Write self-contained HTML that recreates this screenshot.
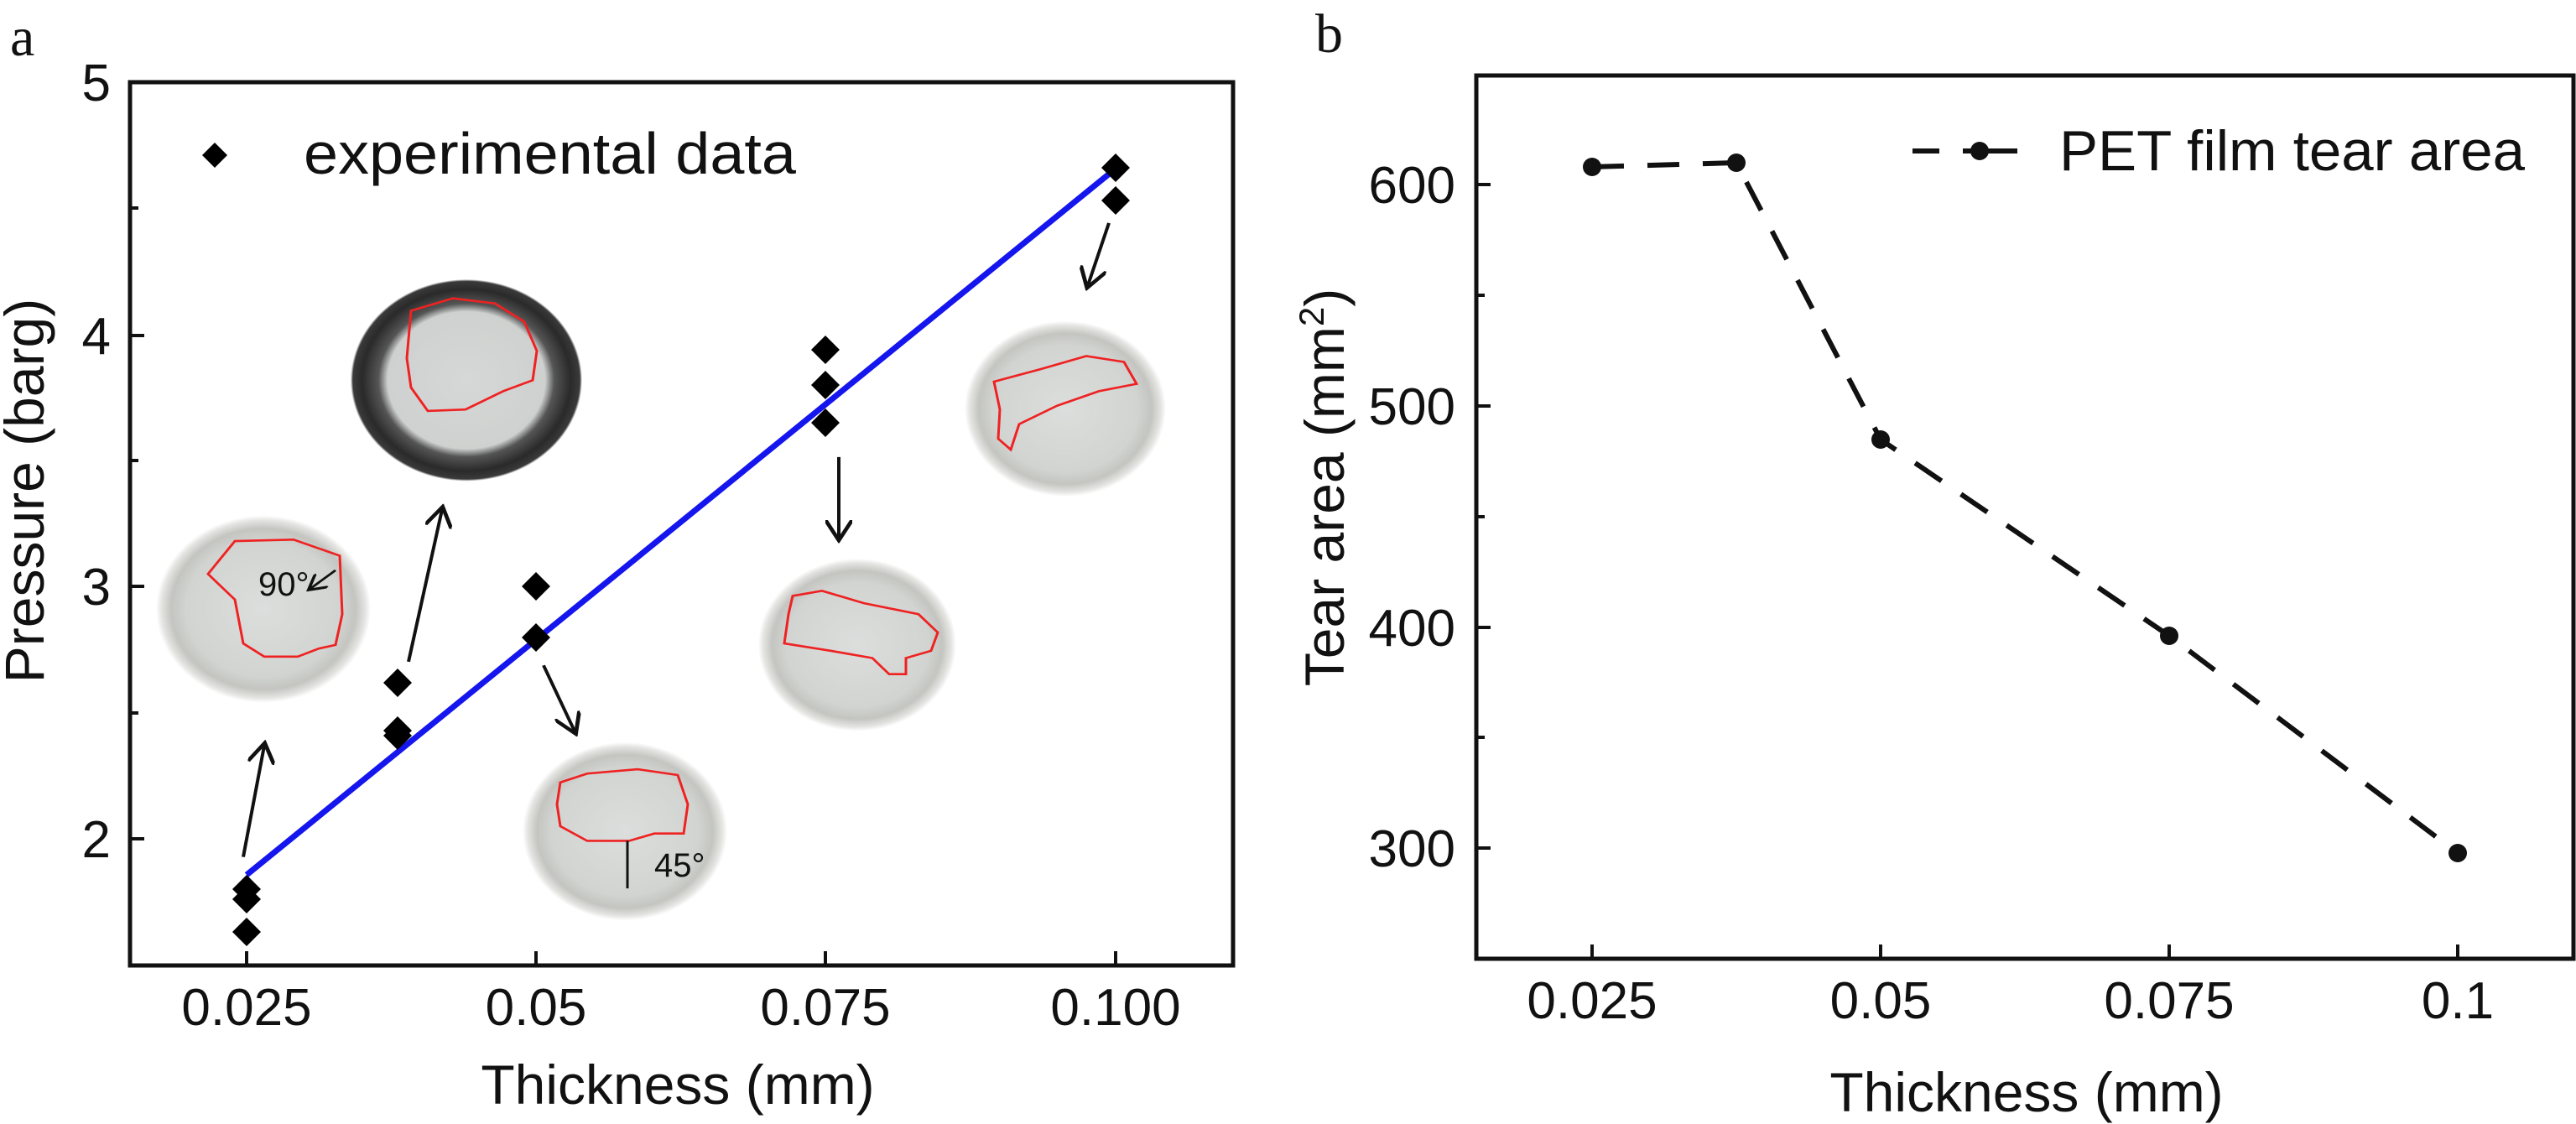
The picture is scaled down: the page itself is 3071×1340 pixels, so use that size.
<!DOCTYPE html>
<html><head><meta charset="utf-8"><style>
html,body{margin:0;padding:0;background:#fff;overflow:hidden;}
svg{display:block;}
text{font-family:"Liberation Sans",sans-serif;fill:#111;}
</style></head><body>
<svg width="3071" height="1340" viewBox="0 0 3071 1340" xmlns="http://www.w3.org/2000/svg">
<defs>
<radialGradient id="dish" cx="50%" cy="50%" r="50%">
<stop offset="0" stop-color="#dcdedd"/><stop offset="0.72" stop-color="#d2d4d1"/><stop offset="0.86" stop-color="#c4c5c1"/><stop offset="0.95" stop-color="#e4e4e2"/><stop offset="1" stop-color="#fff"/>
</radialGradient>
<radialGradient id="dark" cx="50%" cy="50%" r="50%">
<stop offset="0" stop-color="#d6d8d7"/><stop offset="0.68" stop-color="#cfd1d0"/><stop offset="0.76" stop-color="#555"/><stop offset="0.9" stop-color="#2a2a2a"/><stop offset="0.98" stop-color="#3a3a3a"/><stop offset="1" stop-color="#fff"/>
</radialGradient>
<marker id="ah" markerWidth="8" markerHeight="8" refX="6" refY="4" orient="auto" markerUnits="strokeWidth"><path d="M0,0 L7,4 L0,8" fill="none" stroke="#111" stroke-width="1.2"/></marker>
</defs>

<!-- Panel a -->
<text x="12" y="66" style="font-family:'Liberation Serif',serif" font-size="66">a</text>
<g transform="scale(1,0.8717)">
<circle cx="314" cy="833" r="128" fill="url(#dish)"/>
<path d="M248,785 L280,740 L350,738 L405,760 L408,840 L400,882 L380,887 L355,898 L315,898 L290,880 L280,820 Z" fill="none" stroke="#e22" stroke-width="3"/>
<line x1="400" y1="780" x2="370" y2="805" stroke="#111" stroke-width="3" marker-end="url(#ah)"/>
<circle cx="556" cy="520" r="138" fill="url(#dark)"/>
<path d="M490,425 L540,408 L590,415 L625,440 L640,480 L635,520 L600,535 L555,560 L510,562 L490,530 L485,490 Z" fill="none" stroke="#e22" stroke-width="3"/>
<circle cx="745" cy="1137" r="122" fill="url(#dish)"/>
<path d="M668,1070 L700,1058 L760,1052 L808,1060 L820,1100 L815,1140 L780,1140 L750,1150 L700,1150 L668,1130 L664,1100 Z" fill="none" stroke="#e22" stroke-width="3"/>
<line x1="748" y1="1150" x2="748" y2="1215" stroke="#111" stroke-width="3"/>
<circle cx="1022" cy="882" r="118" fill="url(#dish)"/>
<path d="M945,815 L980,808 L1030,825 L1095,840 L1118,865 L1110,890 L1080,900 L1080,922 L1060,922 L1040,900 L990,890 L935,880 L940,840 Z" fill="none" stroke="#e22" stroke-width="3"/>
<circle cx="1270" cy="559" r="120" fill="url(#dish)"/>
<path d="M1185,522 L1240,505 L1295,487 L1340,495 L1355,525 L1310,535 L1260,555 L1215,580 L1205,615 L1190,600 L1192,560 Z" fill="none" stroke="#e22" stroke-width="3"/>
<g stroke="#111" stroke-width="4" fill="none" marker-end="url(#ah)">
<line x1="290" y1="1172" x2="315" y2="1020"/>
<line x1="487" y1="905" x2="527" y2="697"/>
<line x1="648" y1="910" x2="685" y2="1000"/>
<line x1="1000" y1="625" x2="1000" y2="735"/>
<line x1="1322" y1="305" x2="1297" y2="390"/>
</g>
</g>
<text x="308" y="710" font-size="40">90°</text>
<text x="780" y="1045" font-size="40">45°</text>

<line x1="294" y1="1043" x2="1330" y2="201" stroke="#1515ee" stroke-width="7"/>
<g fill="#000">
<path d="M294,1043 l17,17 l-17,17 l-17,-17z"/>
<path d="M294,1055 l17,17 l-17,17 l-17,-17z"/>
<path d="M294,1094 l17,17 l-17,17 l-17,-17z"/>
<path d="M474,797 l17,17 l-17,17 l-17,-17z"/>
<path d="M474,854 l17,17 l-17,17 l-17,-17z"/>
<path d="M474,860 l17,17 l-17,17 l-17,-17z"/>
<path d="M639,682 l17,17 l-17,17 l-17,-17z"/>
<path d="M639,743 l17,17 l-17,17 l-17,-17z"/>
<path d="M984,400 l17,17 l-17,17 l-17,-17z"/>
<path d="M984,442 l17,17 l-17,17 l-17,-17z"/>
<path d="M984,487 l17,17 l-17,17 l-17,-17z"/>
<path d="M1330,183 l17,17 l-17,17 l-17,-17z"/>
<path d="M1330,222 l17,17 l-17,17 l-17,-17z"/>
<path d="M256,170 l15,15 l-15,15 l-15,-15z"/>
</g>
<text x="362" y="207" font-size="70" textLength="587" lengthAdjust="spacingAndGlyphs">experimental data</text>
<rect x="155" y="98" width="1315" height="1053" fill="none" stroke="#111" stroke-width="5"/>
<g stroke="#111" stroke-width="4">
<line x1="155" y1="400" x2="172" y2="400"/><line x1="155" y1="699" x2="172" y2="699"/><line x1="155" y1="1000" x2="172" y2="1000"/>
<line x1="155" y1="248" x2="165" y2="248"/><line x1="155" y1="549" x2="165" y2="549"/><line x1="155" y1="850" x2="165" y2="850"/>
<line x1="294" y1="1151" x2="294" y2="1134"/><line x1="639" y1="1151" x2="639" y2="1134"/><line x1="984" y1="1151" x2="984" y2="1134"/><line x1="1330" y1="1151" x2="1330" y2="1134"/>
</g>
<g font-size="62" text-anchor="end">
<text x="132" y="120">5</text><text x="132" y="422">4</text><text x="132" y="721">3</text><text x="132" y="1022">2</text>
</g>
<g font-size="62" text-anchor="middle">
<text x="294" y="1222">0.025</text><text x="639" y="1222">0.05</text><text x="984" y="1222">0.075</text><text x="1330" y="1222">0.100</text>
</g>
<text x="808" y="1316" font-size="66" text-anchor="middle">Thickness (mm)</text>
<text transform="translate(52,585) rotate(-90)" font-size="66" text-anchor="middle">Pressure (barg)</text>

<!-- Panel b -->
<text x="1568" y="62" style="font-family:'Liberation Serif',serif" font-size="66">b</text>
<rect x="1760" y="90" width="1308" height="1053" fill="none" stroke="#111" stroke-width="5"/>
<g stroke="#111" stroke-width="4">
<line x1="1760" y1="220" x2="1777" y2="220"/><line x1="1760" y1="484" x2="1777" y2="484"/><line x1="1760" y1="748" x2="1777" y2="748"/><line x1="1760" y1="1011" x2="1777" y2="1011"/>
<line x1="1760" y1="352" x2="1770" y2="352"/><line x1="1760" y1="616" x2="1770" y2="616"/><line x1="1760" y1="879" x2="1770" y2="879"/>
<line x1="1898" y1="1143" x2="1898" y2="1126"/><line x1="2242" y1="1143" x2="2242" y2="1126"/><line x1="2586" y1="1143" x2="2586" y2="1126"/><line x1="2930" y1="1143" x2="2930" y2="1126"/>
</g>
<g font-size="62" text-anchor="end">
<text x="1735" y="242">600</text><text x="1735" y="506">500</text><text x="1735" y="770">400</text><text x="1735" y="1033">300</text>
</g>
<g font-size="62" text-anchor="middle">
<text x="1898" y="1214">0.025</text><text x="2242" y="1214">0.05</text><text x="2586" y="1214">0.075</text><text x="2930" y="1214">0.1</text>
</g>
<text x="2416" y="1325" font-size="66" text-anchor="middle">Thickness (mm)</text>
<text transform="translate(1602,581) rotate(-90)" font-size="66" text-anchor="middle">Tear area (mm<tspan dy="-24" font-size="42">2</tspan><tspan dy="24">)</tspan></text>
<polyline points="1898,199 2070,194 2242,524 2586,758 2930,1017" fill="none" stroke="#111" stroke-width="6" stroke-dasharray="38,28"/>
<g fill="#111">
<circle cx="1898" cy="199" r="11"/><circle cx="2070" cy="194" r="11"/><circle cx="2242" cy="524" r="11"/><circle cx="2586" cy="758" r="11"/><circle cx="2930" cy="1017" r="11"/>
<circle cx="2360" cy="180" r="11"/>
</g>
<line x1="2280" y1="180" x2="2312" y2="180" stroke="#111" stroke-width="6"/>
<line x1="2340" y1="180" x2="2405" y2="180" stroke="#111" stroke-width="6"/>
<text x="2455" y="203" font-size="68" textLength="555" lengthAdjust="spacingAndGlyphs">PET film tear area</text>
</svg>
</body></html>
